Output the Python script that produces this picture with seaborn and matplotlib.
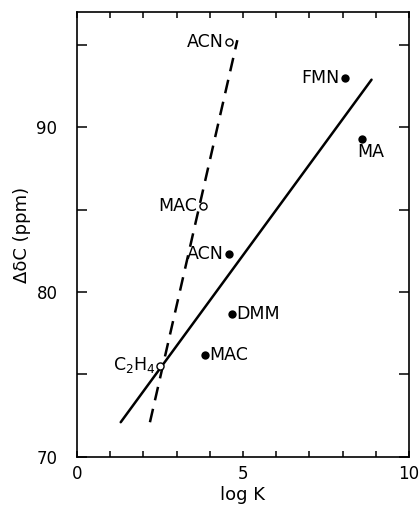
import matplotlib
matplotlib.use("Agg")
import matplotlib.pyplot as plt
import numpy as np
import pandas as pd
import seaborn as sns

# data
labels = ["ACN", "MAC", "C$_2$H$_4$", "FMN", "MA", "ACN", "DMM", "MAC"]
log_k = [4.58, 3.80, 2.50, 8.08, 8.57, 4.58, 4.67, 3.86]
shift = [95.2, 85.2, 75.5, 93.0, 89.3, 82.3, 78.7, 76.2]
kind = ["open", "open", "open", "filled", "filled", "filled", "filled", "filled"]

solid_x = [1.32, 8.87]
solid_y = [72.1, 92.9]
dash_x = [2.20, 4.83]
dash_y = [72.1, 95.3]

# label offsets in points (style only)
offsets = {
    0: (-4, 0, "right", "center"),
    1: (-4, 0, "right", "center"),
    2: (-3, 1, "right", "center"),
    3: (-4, 0, "right", "center"),
    4: (-3, -3, "left", "top"),
    5: (-4, 0, "right", "center"),
    6: (3, 0, "left", "center"),
    7: (3, 0, "left", "center"),
}

sns.set_theme(style="ticks")
plt.rcParams.update({
    "font.family": ["DejaVu Sans"],
    "mathtext.fontset": "dejavusans",
    "axes.linewidth": 1.2,
    "axes.edgecolor": "black",
    "text.color": "black",
    "axes.labelcolor": "black",
    "xtick.color": "black",
    "ytick.color": "black",
})

df = pd.DataFrame({"label": labels, "logK": log_k, "shift": shift, "kind": kind})

fig = plt.figure(figsize=(4.2, 5.07), dpi=100)
ax = fig.add_axes([0.183, 0.099, 0.791, 0.877])

sns.lineplot(x=solid_x, y=solid_y, ax=ax, color="black", linewidth=1.8)
sns.lineplot(x=dash_x, y=dash_y, ax=ax, color="black", linewidth=1.8)
ax.lines[-1].set_dashes([5.5, 3.5])

filled = df[df["kind"] == "filled"]
opened = df[df["kind"] == "open"]
sns.scatterplot(data=filled, x="logK", y="shift", ax=ax, color="black",
                s=36, edgecolor="black", linewidth=0, zorder=3)
sns.scatterplot(data=opened, x="logK", y="shift", ax=ax, facecolor="white",
                s=26, edgecolor="black", linewidth=1.0, zorder=3)

for i, row in df.iterrows():
    dx, dy, ha, va = offsets[i]
    ax.annotate(row["label"], (row["logK"], row["shift"]), xytext=(dx, dy),
                textcoords="offset points", ha=ha, va=va, fontsize=12.5)

ax.set_xlim(0, 10)
ax.set_ylim(70, 97)
ax.set_xticks(np.arange(0, 11, 1))
ax.set_xticklabels(["0", "", "", "", "", "5", "", "", "", "", "10"])
ax.set_yticks([70, 75, 80, 85, 90, 95])
ax.set_yticklabels(["70", "", "80", "", "90", ""])
ax.tick_params(axis="x", direction="in", length=4, width=1.1, top=True,
               labelsize=12, pad=6)
ax.tick_params(axis="y", direction="in", length=7, width=1.1, right=True,
               labelsize=12, pad=14)
for side in ["top", "right"]:
    ax.spines[side].set_visible(True)

ax.set_xlabel("log K", fontsize=13, labelpad=2)
ax.set_ylabel("ΔδC (ppm)", fontsize=13, labelpad=4)

fig.savefig("out.png", dpi=100)
